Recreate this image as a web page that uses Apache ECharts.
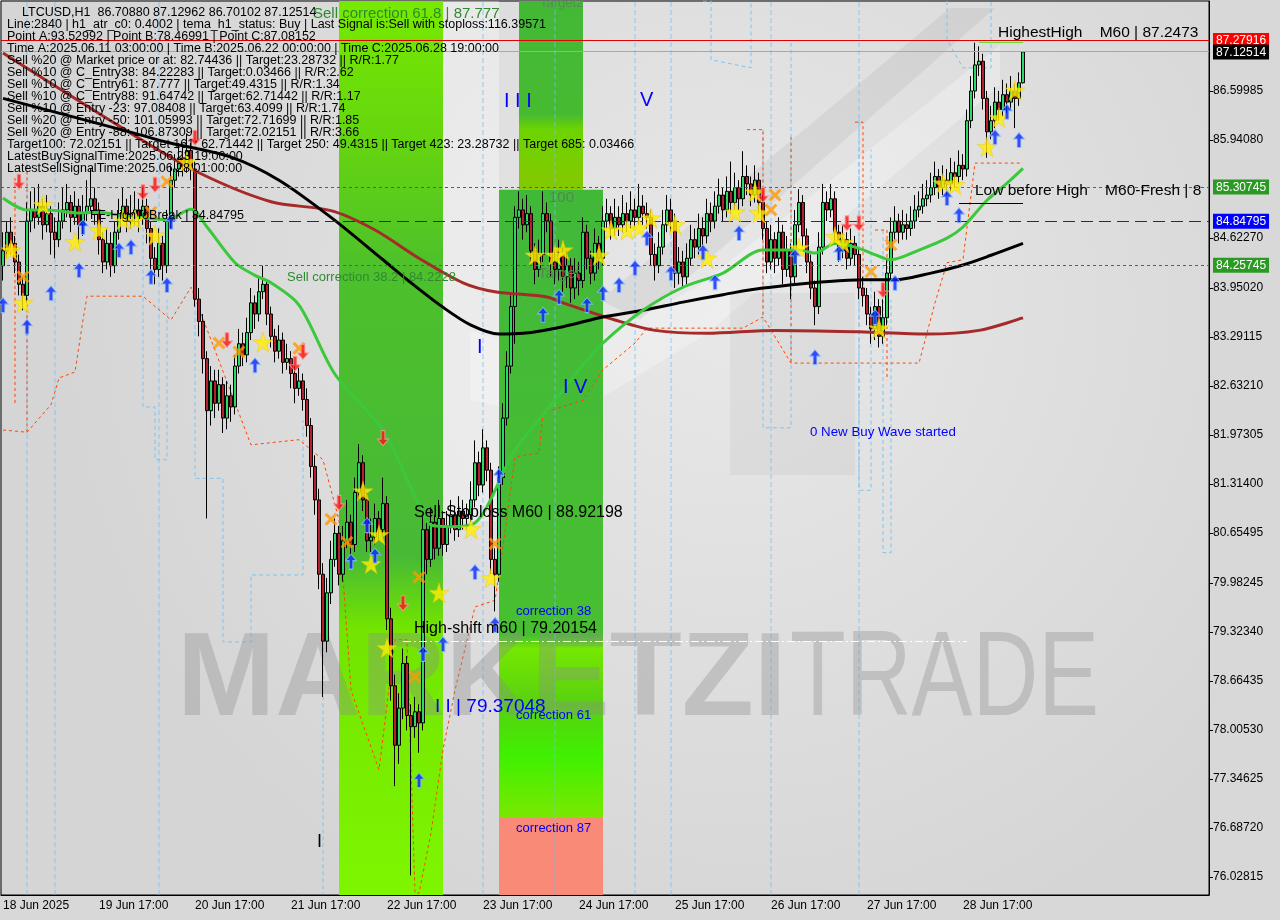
<!DOCTYPE html>
<html><head><meta charset="utf-8">
<script src="https://cdn.jsdelivr.net/npm/echarts@6/dist/echarts.min.js"></script>
<style>html,body{margin:0;padding:0;background:#d8d8d8}#c{width:1280px;height:920px}</style>
</head><body><div id="c"></div>
<script>
// ---------- DATA ----------
const firstOpen = 84.25;
const closes = [
84.45,84.70,84.55,84.30,84.00,83.85,84.85,85.00,84.90,85.05,
84.80,84.95,84.70,84.60,84.85,85.00,85.10,84.90,85.05,84.80,
84.95,85.05,85.15,85.00,84.60,84.30,84.55,84.25,84.70,84.95,
85.05,84.85,84.95,85.00,84.90,85.05,84.75,84.35,84.20,84.55,
84.25,84.85,85.40,85.55,85.70,85.60,85.80,85.55,83.80,83.50,
83.00,82.30,82.70,82.40,82.65,82.20,82.50,82.35,82.90,83.20,
83.05,83.35,83.75,83.60,83.90,84.00,83.60,83.30,83.10,83.25,
82.95,83.00,82.80,82.60,82.70,82.45,82.10,81.55,81.10,80.10,
79.20,79.85,80.30,80.65,80.10,80.55,80.80,80.50,81.20,81.60,
81.10,80.55,80.60,80.85,80.70,81.05,79.50,78.60,77.80,78.30,
78.90,78.20,78.05,78.25,78.10,80.70,80.30,80.80,80.45,80.85,
80.50,80.75,80.90,80.70,80.95,80.85,80.90,81.10,81.60,81.30,
81.80,81.50,80.30,80.10,81.40,82.20,82.90,83.70,84.90,85.00,
84.80,84.95,84.45,84.20,84.40,84.95,84.85,84.30,84.20,84.40,
84.10,84.25,83.95,84.15,84.05,84.70,84.35,84.15,84.55,84.35,
84.85,84.95,84.75,84.90,84.80,84.95,84.85,85.00,84.90,85.05,
84.95,84.90,84.40,84.25,84.50,84.80,85.00,84.85,84.15,84.30,
84.10,84.35,84.60,84.50,84.75,84.65,84.95,84.85,85.05,85.20,
85.00,85.25,85.10,85.30,85.15,85.45,85.35,85.20,85.40,85.10,
84.75,84.30,84.60,84.35,84.70,84.20,84.45,84.10,84.80,85.10,
84.65,84.30,83.95,83.70,84.50,85.10,85.00,85.15,84.70,84.45,
84.60,84.35,84.55,84.40,83.95,83.85,83.60,83.40,83.70,83.30,
83.55,84.15,84.70,84.85,84.70,84.80,84.75,84.85,85.00,85.05,
85.15,85.20,85.30,85.45,85.30,85.40,85.35,85.50,85.45,85.60,
85.55,86.20,86.60,86.95,87.00,86.50,86.05,86.20,86.45,86.35,
86.55,86.45,86.60,86.50,86.71,87.12514];
const highs = [
84.70,84.85,84.90,84.65,84.40,84.10,85.10,85.25,85.30,85.35,
85.15,85.20,85.05,84.90,85.10,85.30,85.35,85.20,85.25,85.15,
85.20,85.40,85.55,85.30,85.10,84.70,84.75,84.70,84.85,85.15,
85.30,85.15,85.20,85.25,85.15,85.30,85.15,84.85,84.50,84.75,
84.65,85.00,85.60,85.75,85.90,85.85,86.03,85.90,85.65,83.95,
83.60,83.10,82.90,82.85,82.85,82.75,82.70,82.65,83.05,83.40,
83.35,83.55,83.95,83.85,84.10,84.25,84.05,83.70,83.40,83.45,
83.35,83.20,83.10,82.90,82.90,82.80,82.60,82.20,81.70,81.25,
80.25,80.05,80.55,80.85,80.75,80.75,81.10,80.90,81.40,81.85,
81.70,81.20,80.85,81.05,80.95,81.40,81.15,79.65,78.75,78.50,
79.10,79.00,78.35,78.45,78.35,80.90,80.85,81.00,80.90,81.10,
80.95,80.95,81.10,81.00,81.15,81.10,81.05,81.35,81.90,81.75,
82.05,81.90,81.60,80.45,81.55,82.40,83.10,83.85,85.05,85.25,
85.15,85.20,85.05,84.55,84.60,85.25,85.10,84.95,84.45,84.60,
84.50,84.45,84.35,84.35,84.30,84.90,84.80,84.45,84.75,84.65,
85.05,85.15,85.05,85.15,85.05,85.20,85.10,85.25,85.15,85.35,
85.20,85.10,85.00,84.55,84.70,85.00,85.20,85.15,84.95,84.50,
84.45,84.55,84.80,84.75,84.95,84.90,85.15,85.10,85.25,85.42,
85.30,85.45,85.65,85.50,85.40,85.79,85.60,85.45,85.60,85.50,
85.20,84.85,84.80,84.70,84.90,84.80,84.65,84.55,85.00,85.28,
85.20,84.75,84.40,84.05,84.70,85.35,85.25,85.35,85.25,84.80,
84.80,84.70,84.75,84.65,84.50,84.10,83.95,83.70,83.90,83.80,
83.80,84.35,84.90,85.05,84.95,85.00,84.95,85.05,85.20,85.25,
85.35,85.40,85.50,85.65,85.55,85.60,85.55,85.70,85.65,85.80,
85.75,86.35,86.80,87.25,87.20,87.10,86.60,86.40,86.65,86.60,
86.75,86.70,86.80,86.70,86.85,87.12962];
const lows = [
84.05,84.35,84.40,84.15,83.85,83.65,83.75,84.70,84.75,84.80,
84.60,84.70,84.40,84.35,84.50,84.75,84.90,84.70,84.80,84.55,
84.65,84.85,84.95,84.80,84.40,84.15,84.20,84.10,84.15,84.60,
84.85,84.70,84.75,84.80,84.70,84.80,84.55,84.20,84.00,84.10,
84.05,84.15,84.75,85.30,85.45,85.45,85.50,85.40,83.70,83.30,
82.80,80.85,82.10,82.20,82.30,82.00,82.05,82.15,82.25,82.80,
82.90,82.95,83.25,83.40,83.50,83.80,83.45,83.15,82.95,83.00,
82.80,82.85,82.60,82.40,82.50,82.30,81.95,81.40,80.90,79.90,
78.45,79.05,79.70,80.20,79.95,80.00,80.45,80.35,80.40,81.10,
80.95,80.40,80.40,80.50,80.55,80.60,79.35,78.40,77.25,77.55,
78.15,78.00,76.05,77.90,77.70,78.00,80.10,80.20,80.30,80.35,
80.35,80.40,80.65,80.55,80.60,80.70,80.70,80.80,81.00,81.15,
81.20,81.35,80.10,79.60,80.00,81.30,82.10,82.80,83.20,84.75,
84.60,84.70,84.30,84.00,84.10,84.30,84.70,84.10,84.00,84.05,
83.90,83.95,83.75,83.80,83.85,83.95,84.20,84.00,84.05,84.20,
84.25,84.75,84.60,84.65,84.65,84.70,84.70,84.75,84.75,84.80,
84.80,84.75,84.25,84.05,84.15,84.40,84.70,84.70,83.95,84.00,
83.95,84.00,84.25,84.35,84.40,84.50,84.55,84.70,84.75,84.95,
84.85,84.90,84.95,85.00,85.00,85.05,85.20,85.05,85.10,84.95,
84.60,84.15,84.20,84.15,84.25,84.00,84.10,83.80,84.00,84.70,
84.50,84.15,83.80,83.45,83.60,84.40,84.85,84.90,84.55,84.30,
84.35,84.20,84.25,84.25,83.80,83.70,83.45,83.20,83.25,83.15,
83.20,83.45,84.05,84.60,84.55,84.60,84.60,84.65,84.75,84.90,
84.95,85.05,85.10,85.20,85.15,85.20,85.20,85.25,85.30,85.35,
85.40,85.45,86.10,86.50,86.80,86.35,85.70,85.95,86.10,86.20,
86.25,86.30,86.35,86.10,86.40,86.70102];

const xTickLabels = ['18 Jun 2025','19 Jun 17:00','20 Jun 17:00','21 Jun 17:00','22 Jun 17:00','23 Jun 17:00','24 Jun 17:00','25 Jun 17:00','26 Jun 17:00','27 Jun 17:00','28 Jun 17:00'];
const yTickValues = [76.02815,76.68720,77.34625,78.00530,78.66435,79.32340,79.98245,80.65495,81.31400,81.97305,82.63210,83.29115,83.95020,84.62270,85.94080,86.59985];
const yBoxValues = [87.27916,87.12514,85.30745,84.84795,84.25745];

// moving averages [barIndex, price]
const maBlack = [[0,86.50],[33,86.03],[41,85.91],[57,85.71],[69,85.40],[82,84.90],[95,84.33],[102,84.02],[110,83.69],[117,83.45],[124,83.33],[130,83.34],[140,83.43],[150,83.56],[160,83.65],[170,83.76],[180,83.86],[190,83.95],[215,84.06],[223,84.06],[232,84.15],[240,84.26],[247,84.39],[255,84.55]];
const maBrown = [[0,87.11],[32,86.03],[49,85.50],[67,85.11],[82,84.99],[93,84.73],[104,84.35],[115,84.02],[123,83.90],[136,83.83],[140,83.75],[153,83.52],[163,83.38],[176,83.34],[193,83.38],[214,83.36],[231,83.33],[244,83.38],[255,83.55]];
const maGreen = [[0,85.16],[6,85.00],[11,85.00],[19,84.96],[24,84.97],[29,84.93],[34,84.90],[41,84.87],[47,85.01],[51,84.77],[58,84.29],[63,84.12],[67,84.02],[74,83.72],[83,82.79],[95,82.03],[104,81.03],[107,80.76],[112,80.74],[118,80.79],[128,81.77],[138,82.44],[144,82.85],[150,83.21],[160,83.65],[170,83.96],[180,84.15],[190,84.46],[199,84.46],[203,84.42],[208,84.55],[213,84.50],[217,84.42],[222,84.33],[229,84.46],[236,84.62],[240,84.77],[246,85.13],[251,85.36],[255,85.56]];

// signal marks [barIndex, price]
const stars = [[10,85.07],[2,84.46],[5,83.75],[18,84.57],[24,84.73],[30,84.87],[33,84.87],[38,84.66],[46,85.65],[65,83.22],[90,81.22],[92,80.24],[94,80.63],[96,79.11],[109,79.85],[117,80.71],[122,80.05],[133,84.39],[138,84.39],[140,84.46],[149,84.39],[152,84.73],[156,84.73],[159,84.76],[162,84.89],[168,84.80],[176,84.35],[183,84.97],[188,85.24],[189,84.96],[199,84.49],[208,84.64],[210,84.56],[219,83.41],[235,85.36],[238,85.34],[246,85.85],[249,86.24],[253,86.61]];
const upArrows = [[6,83.43],[12,83.88],[19,84.19],[20,84.77],[29,84.46],[32,84.50],[37,84.10],[41,83.99],[42,84.84],[63,82.91],[0,83.72],[87,80.27],[91,80.76],[93,80.35],[104,77.33],[105,79.03],[110,79.16],[118,80.13],[123,79.42],[124,81.42],[135,83.59],[139,83.83],[146,83.72],[150,83.88],[154,83.99],[158,84.22],[161,84.62],[167,84.15],[175,84.43],[178,84.03],[184,84.69],[198,84.37],[203,83.02],[209,84.42],[218,83.56],[223,84.02],[236,85.16],[239,84.93],[248,85.98],[251,86.32],[254,85.94]];
const downArrows = [[4,85.38],[35,85.24],[38,85.34],[48,85.97],[56,83.25],[73,82.93],[75,83.09],[84,81.06],[95,81.93],[100,79.71],[190,85.20],[211,84.82],[214,84.82],[220,83.92]];
const crosses = [[2,84.46],[5,84.10],[37,84.97],[41,85.38],[54,83.21],[59,83.09],[74,83.14],[82,80.84],[86,80.53],[103,78.72],[104,80.06],[123,80.51],[193,85.20],[192,85.00],[217,84.17],[222,84.53]];

// dashed band lines [barIndex, price]
const blueBands = [
 [[35,85.23],[35,82.35],[38,82.35],[38,81.64],[41,81.64],[41,83.79]],
 [[48,85.43],[48,81.39],[55,81.39],[55,79.19],[62,79.19],[62,80.09],[75,80.09],[75,82.17]],
 [[80,80.06],[80,75.81]],
 [[175,87.81],[177,87.81],[177,87.02],[187,86.91],[187,87.81]],
 [[190,86.08],[190,82.07],[197,82.07],[197,87.29]],
 [[214,86.21],[214,81.23],[217,81.23],[217,85.81]],
 [[220,84.73],[220,80.39],[222,80.39],[222,83.79]],
 [[236,87.81],[236,87.29],[240,86.91],[247,86.91],[247,87.81]]
];
const blueVerticals = [6,13,39,120,138,158,167,192,214];
const orangeBands = [
 [[0,82.04],[6,82.01],[12,82.38],[14,82.74],[18,82.82],[20,83.52],[21,83.84],[35,83.84],[42,83.52],[47,83.96],[62,81.84],[74,81.91],[80,81.64],[84,80.83],[87,78.54],[94,77.47],[98,79.22],[101,79.22],[103,75.81],[104,75.81],[107,76.62],[110,77.74],[113,78.54],[118,79.66],[123,79.75],[125,80.47],[128,81.68],[134,81.73],[135,82.27],[145,82.44],[150,82.85],[158,83.21],[161,83.41],[185,83.41],[190,83.56],[197,82.94],[229,82.94],[233,83.75],[236,84.29],[240,84.33],[243,85.63],[255,85.63]],
 [[3,85.43],[3,82.38]],
 [[6,85.60],[6,82.01]],
 [[186,86.08],[190,86.08],[190,83.56]],
 [[197,85.98],[197,82.94]],
 [[213,86.18],[215,86.18],[215,83.79]],
 [[218,84.73],[221,84.73],[221,82.71]]
];

// zones [fromBar, toBar, priceLow, priceHigh]
const zones = [[84.25,110.25,75.786,87.81],[129.25,145.25,85.27,87.81],[124.25,150.25,76.82,85.27],[124.25,150.25,75.786,76.82]];

// ---------- CHART ----------
const N = 302;
const cats = Array.from({length:N},(_,i)=>String(i));
const candles = closes.map((c,i)=>[i?closes[i-1]:firstOpen, c, lows[i], highs[i]]);
const G = echarts.graphic.LinearGradient;
const zoneFills = [
 new G(0,0,0,1,[{offset:0,color:'#76ea00'},{offset:0.15,color:'#66d60e'},{offset:0.3,color:'#4dc02c'},{offset:0.62,color:'#47b936'},{offset:0.7,color:'#72e400'},{offset:1,color:'#7ef600'}]),
 new G(0,0,0,1,[{offset:0,color:'#43b836'},{offset:0.6,color:'#46bb31'},{offset:0.68,color:'#6cd400'},{offset:1,color:'#86c800'}]),
 new G(0,0,0,1,[{offset:0,color:'#42b83a'},{offset:0.71,color:'#48bf30'},{offset:0.73,color:'#74e800'},{offset:0.82,color:'#58d012'},{offset:0.9,color:'#40f000'},{offset:1,color:'#7ae800'}]),
 '#fa8a78'
];
const FONT = '"Liberation Sans", Arial, sans-serif';
const boxStyles = {
 b0:{backgroundColor:'#ff0000',color:'#fff',padding:[2,3,1,3]},
 b1:{backgroundColor:'#000000',color:'#fff',padding:[2,3,1,3]},
 b2:{backgroundColor:'#2a9a22',color:'#fff',padding:[2,3,1,3]},
 b3:{backgroundColor:'#0000ff',color:'#fff',padding:[2,3,1,3]},
 b4:{backgroundColor:'#2a9a22',color:'#fff',padding:[2,3,1,3]}
};
const starPath = 'path://M50,0 L61,35 L98,35 L68,57 L79,91 L50,70 L21,91 L32,57 L2,35 L39,35 Z';
const arrowPath = 'path://M6,0 L12,7 L8,7 L8,16 L4,16 L4,7 L0,7 Z';
const crossPath = 'path://M0,2 L2,0 L6,4 L10,0 L12,2 L8,6 L12,10 L10,12 L6,8 L2,12 L0,10 L4,6 Z';

const lineSeries = (data,color,width,type,z,smooth)=>({type:'line',data,symbol:'none',smooth:smooth||false,silent:true,z,
  lineStyle:{color,width,type:type||'solid'},connectNulls:true});

const series = [];
series.push({type:'custom',z:1,silent:true,clip:true,data:zones.map(z=>[z[0],z[2]]),
 renderItem:(params,api)=>{const z=zones[params.dataIndex];const a=api.coord([z[0],z[3]]);const b=api.coord([z[1],z[2]]);
  return {type:'rect',shape:{x:a[0],y:a[1],width:b[0]-a[0],height:b[1]-a[1]},style:{fill:zoneFills[params.dataIndex]}};}});
blueBands.forEach(b=>series.push(lineSeries(b,'#7cc4f4',1,[4,3],2)));
blueVerticals.forEach(k=>series.push(lineSeries([[k,75.786],[k,87.81]],'rgba(120,190,240,0.75)',1,[5,3],2)));
orangeBands.forEach(b=>series.push(lineSeries(b,'#ff4500',1,[3,3],2)));
series.push({type:'candlestick',data:candles,z:3,barWidth:3,silent:true,
 itemStyle:{color:'#2fd866',color0:'#b5202e',borderColor:'#000',borderColor0:'#000',borderWidth:1},
 markLine:{silent:true,symbol:'none',label:{show:false},animation:false,data:[
  {yAxis:87.27916,lineStyle:{color:'#e00000',width:1,type:'solid'}},
  {yAxis:87.12514,lineStyle:{color:'#a8a8a8',width:1,type:'solid'}},
  {yAxis:85.30745,lineStyle:{color:'#2e7d32',width:1,type:[3,3]}},
  {yAxis:84.84795,lineStyle:{color:'#1020d0',width:1.2,type:[12,6]}},
  {yAxis:84.25745,lineStyle:{color:'#2e7d32',width:1,type:[3,3]}},
  [{coord:[99.5,80.776],lineStyle:{color:'#dd1010',width:1,type:[8,3,2,3]}},{coord:[301.5,80.776]}],
  [{coord:[99.5,79.20154],lineStyle:{color:'#ffffff',width:1,type:[8,3,2,3]}},{coord:[241,79.20154]}],
  [{coord:[239,85.09],lineStyle:{color:'#000',width:1,type:'solid'}},{coord:[255,85.09]}],
  [{coord:[244,87.25],lineStyle:{color:'#66dd33',width:1,type:'solid'}},{coord:[255,87.25]}]
 ]}});
series.push(lineSeries(maBrown,'#a52a2a',3,'solid',4,0.3));
series.push(lineSeries(maBlack,'#000000',3,'solid',4,0.3));
series.push(lineSeries(maGreen,'#3cc83c',3,'solid',4,0.3));
series.push({type:'scatter',data:crosses,symbol:crossPath,symbolSize:13,z:6,silent:true,itemStyle:{color:'#ff9a00'}});
series.push({type:'scatter',data:stars,symbol:starPath,symbolSize:20,z:6,silent:true,itemStyle:{color:'#ffee00',borderColor:'#f0c000',borderWidth:0.5}});
series.push({type:'scatter',data:upArrows,symbol:arrowPath,symbolSize:[11,15],z:7,silent:true,itemStyle:{color:'#0a24ff',borderColor:'#8cc4ff',borderWidth:1}});
series.push({type:'scatter',data:downArrows,symbol:arrowPath,symbolRotate:180,symbolSize:[11,15],z:7,silent:true,itemStyle:{color:'#ff1010',borderColor:'#ff9c9c',borderWidth:1}});

const T = (text,x,y,fill,size,extra)=>Object.assign({type:'text',z:20,silent:true,style:{text,x,y,fill,font:(size||12)+'px '+FONT,textVerticalAlign:'middle'}},extra||{});
const infoLines = [
 'Line:2840 | h1_atr_c0: 0.4002 | tema_h1_status: Buy | Last Signal is:Sell with stoploss:116.39571',
 'Point A:93.52992 | Point B:78.46991 | Point C:87.08152',
 'Time A:2025.06.11 03:00:00 | Time B:2025.06.22 00:00:00 | Time C:2025.06.28 19:00:00',
 'Sell %20 @ Market price or at: 82.74436 || Target:23.28732 || R/R:1.77',
 'Sell %10 @ C_Entry38: 84.22283 || Target:0.03466 || R/R:2.62',
 'Sell %10 @ C_Entry61: 87.777 || Target:49.4315 || R/R:1.34',
 'Sell %10 @ C_Entry88: 91.64742 || Target:62.71442 || R/R:1.17',
 'Sell %10 @ Entry -23: 97.08408 || Target:63.4099 || R/R:1.74',
 'Sell %20 @ Entry -50: 101.05993 || Target:72.71699 || R/R:1.85',
 'Sell %20 @ Entry -88: 106.87309 || Target:72.02151 || R/R:3.66',
 'Target100: 72.02151 || Target 161: 62.71442 || Target 250: 49.4315 || Target 423: 23.28732 || Target 685: 0.03466',
 'LatestBuySignalTime:2025.06.23 19:00:00',
 'LatestSellSignalTime:2025.06.28 01:00:00'
];
const graphics = [
 {type:'rect',z:0,silent:true,shape:{x:443,y:1,width:56,height:520},style:{fill:'rgba(255,255,255,0.35)'}},
 {type:'polygon',z:0,silent:true,shape:{points:[[470,330],[560,360],[700,285],[1000,45],[1000,85],[705,335],[565,420],[470,400]]},style:{fill:'rgba(255,255,255,0.28)'}},
 {type:'polygon',z:0,silent:true,shape:{points:[[600,300],[950,8],[995,8],[640,320]]},style:{fill:'rgba(0,0,0,0.05)'}},
 {type:'rect',z:0,silent:true,shape:{x:730,y:293,width:125,height:182},style:{fill:'rgba(0,0,0,0.04)'}},
 {type:'text',z:2.5,silent:true,x:177,y:682,style:{text:'MARKETZI',fill:'rgba(140,140,140,0.36)',font:'bold 118px '+FONT,textVerticalAlign:'middle'}},
 {type:'text',z:2.5,silent:true,x:790,y:682,scaleX:0.76,style:{text:'TRADE',fill:'rgba(140,140,140,0.36)',font:'120px '+FONT,textVerticalAlign:'middle'}},
 T('LTCUSD,H1  86.70880 87.12962 86.70102 87.12514',22,13,'#000',12.5),
 T('Sell correction 61.8 | 87.777',313,14,'#2f8a2f',15),
 T('Target2',540,3,'#5a8a5a',13),
 T('HighestHigh    M60 | 87.2473',998,33,'#000',15.5),
 T('Low before High    M60-Fresh | 8',975,191,'#000',15.5),
 T('FE-HighToBreak | 84.84795',90,216,'#000',12.5),
 T('Sell correction 38.2 | 84.2228',287,277,'#2f8a2f',13),
 T('100',549,198,'#4e8a4e',15),
 T('Target',538,274,'#4e8a4e',15),
 T('Sell-Stoploss M60 | 88.92198',414,513,'#000',16),
 T('High-shift m60 | 79.20154',414,629,'#000',16),
 T('I I | 79.37048',435,707,'#0000ff',19),
 T('correction 38',516,611,'#0000ff',13),
 T('correction 61',516,715,'#0000ff',13),
 T('correction 87',516,828,'#0000ff',13),
 T('I I I',504,101,'#0000ff',20),
 T('V',640,100,'#0000ff',20),
 T('I',477,347,'#0000ff',20),
 T('I V',563,387,'#0000ff',20),
 T('I',317,842,'#000000',18),
 T('0 New Buy Wave started',810,432,'#0000ff',13.3)
];
infoLines.forEach((s,i)=>graphics.push(T(s,7,25+12*i,'#000',12.5)));

const chart = echarts.init(document.getElementById('c'),null,{renderer:'canvas'});
chart.setOption({
 animation:false,
 backgroundColor:'#d8d8d8',
 grid:{left:1,right:71,top:1,bottom:25,show:true,borderColor:'#000',borderWidth:1,
  backgroundColor:new echarts.graphic.RadialGradient(0.6,0.35,0.75,[{offset:0,color:'#e8e8e8'},{offset:1,color:'#d5d5d5'}])},
 xAxis:{type:'category',data:cats,boundaryGap:true,
  axisLine:{lineStyle:{color:'#000'}},
  axisTick:{alignWithLabel:true,interval:23,length:4,lineStyle:{color:'#000'}},
  axisLabel:{interval:23,align:'left',margin:5,color:'#000',fontSize:12,fontFamily:FONT,
   formatter:(v,i)=>(i%24===0 && xTickLabels[i/24])?xTickLabels[i/24]:''},
  splitLine:{show:false}},
 yAxis:{type:'value',position:'right',min:75.786,max:87.81,scale:true,
  axisLine:{show:true,lineStyle:{color:'#000'}},
  axisTick:{show:true,length:4,lineStyle:{color:'#000'},customValues:yTickValues},
  axisLabel:{margin:4,color:'#000',fontSize:12,fontFamily:FONT,customValues:yTickValues.concat(yBoxValues),rich:boxStyles,
   formatter:(v)=>{const j=yBoxValues.findIndex(b=>Math.abs(b-v)<1e-6);return j>=0?'{b'+j+'|'+v.toFixed(5)+'}':v.toFixed(5);}},
  splitLine:{show:false}},
 series,
 graphic:graphics
});
</script></body></html>
